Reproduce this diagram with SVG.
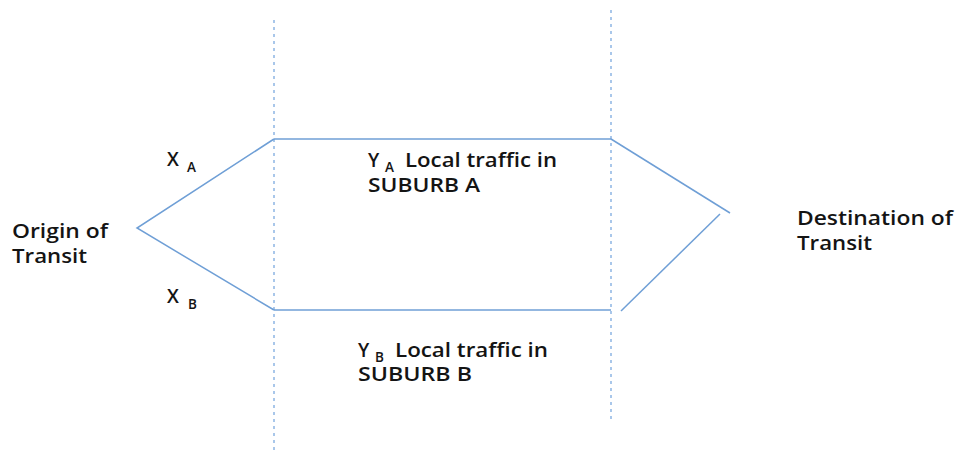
<svg xmlns="http://www.w3.org/2000/svg" width="955" height="453" viewBox="0 0 955 453">
  <style>
    .lbl { font-family: "Open Sans", "Liberation Sans", sans-serif; font-size: 19px; font-weight: 600; fill: #141414; }
    .sub { font-family: "Open Sans", "Liberation Sans", sans-serif; font-size: 13.5px; font-weight: 600; fill: #141414; }
    .edge { stroke: #6f9fd6; stroke-width: 1.5; fill: none; }
    .bound { stroke: #a9c7ea; stroke-width: 2; stroke-dasharray: 3 4; fill: none; }
  </style>
  <rect width="955" height="453" fill="#fff"/>

  <!-- suburb boundaries -->
  <g id="boundaries">
    <line class="bound" x1="274" y1="20" x2="274" y2="453"/>
    <line class="bound" x1="611" y1="10" x2="611" y2="420"/>
  </g>

  <!-- routes -->
  <g id="connectors">
    <polyline class="edge" points="274,139 137,228 274,310"/>
    <line class="edge" x1="274" y1="139" x2="611" y2="139"/>
    <line class="edge" x1="274" y1="310" x2="611" y2="310"/>
    <line class="edge" x1="611" y1="139" x2="730" y2="213"/>
    <line class="edge" x1="720" y1="214" x2="621" y2="311"/>
  </g>

  <g id="origin">
    <text class="lbl" x="12" y="238" textLength="96" lengthAdjust="spacingAndGlyphs">Origin of</text>
    <text class="lbl" x="12" y="263" textLength="75" lengthAdjust="spacingAndGlyphs">Transit</text>
  </g>

  <g id="destination">
    <text class="lbl" x="797" y="225" textLength="156" lengthAdjust="spacingAndGlyphs">Destination of</text>
    <text class="lbl" x="797" y="250" textLength="75" lengthAdjust="spacingAndGlyphs">Transit</text>
  </g>

  <g id="xa">
    <text class="lbl" x="167" y="166">X</text>
    <text class="sub" x="187" y="172">A</text>
  </g>
  <g id="xb">
    <text class="lbl" x="167" y="303">X</text>
    <text class="sub" x="188" y="309">B</text>
  </g>

  <g id="suburb-a">
    <text class="lbl" x="368" y="167">Y</text>
    <text class="sub" x="385" y="172">A</text>
    <text class="lbl" x="405" y="167" textLength="152" lengthAdjust="spacingAndGlyphs">Local traffic in</text>
    <text class="lbl" x="368" y="192" textLength="112" lengthAdjust="spacingAndGlyphs">SUBURB A</text>
  </g>
  <g id="suburb-b">
    <text class="lbl" x="358" y="357">Y</text>
    <text class="sub" x="375" y="362">B</text>
    <text class="lbl" x="395" y="357" textLength="153" lengthAdjust="spacingAndGlyphs">Local traffic in</text>
    <text class="lbl" x="358" y="381" textLength="114" lengthAdjust="spacingAndGlyphs">SUBURB B</text>
  </g>
</svg>
